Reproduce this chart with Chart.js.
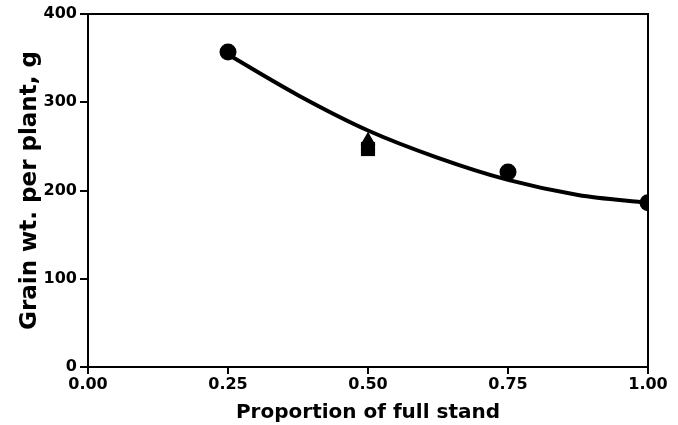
<!DOCTYPE html>
<html>
<head>
<meta charset="utf-8">
<script src="https://cdn.jsdelivr.net/npm/chart.js@4.4.1/dist/chart.umd.min.js"></script>
<style>
  html, body { margin: 0; padding: 0; background: #fff; }
  #wrap { width: 678px; height: 425px; }
</style>
</head>
<body>
<div id="wrap"><canvas id="myChart" width="678" height="425"></canvas></div>
<script>
// values
const standProp = [0.25, 0.75, 1.00];        // circles
const grainCircle = [357, 221, 186];
const triX = [0.50], triY = [257];            // triangle
const sqX = [0.50], sqY = [247];              // square
// fitted curve, read at a few points along the line
const curveX = [0.25, 0.375, 0.50, 0.625, 0.75, 0.875, 1.00];
const curveY = [354, 308, 268, 237, 212, 195, 186];

const xTicks = [0, 0.25, 0.5, 0.75, 1.0];
const yTicks = [0, 100, 200, 300, 400];

const FONT = "'DejaVu Sans', sans-serif";

function pts(xs, ys) {
    return xs.map((x, i) => ({ x: x, y: ys[i] }));
}

// closes the box on top and right
const frame = {
    id: 'frame',
    afterDraw(chart) {
        const { ctx, chartArea: a } = chart;
        ctx.save();
        ctx.strokeStyle = '#000';
        ctx.lineWidth = 2;
        ctx.beginPath();
        ctx.moveTo(a.left, a.top);
        ctx.lineTo(a.right, a.top);
        ctx.lineTo(a.right, a.bottom);
        ctx.stroke();
        ctx.restore();
    }
};

const ctx = document.getElementById('myChart').getContext('2d');

new Chart(ctx, {
    type: 'scatter',
    data: {
        datasets: [
            {
                data: pts(curveX, curveY),
                showLine: true,
                borderColor: '#000',
                borderWidth: 4,
                pointRadius: 0,
                cubicInterpolationMode: 'monotone',
                order: 2
            },
            {
                data: pts(standProp, grainCircle),
                pointStyle: 'circle',
                pointRadius: 8.5,
                backgroundColor: '#000',
                borderColor: '#000',
                borderWidth: 0,
                order: 1
            },
            {
                data: pts(triX, triY),
                pointStyle: 'triangle',
                pointRadius: 8.5,
                backgroundColor: '#000',
                borderColor: '#000',
                borderWidth: 0,
                order: 1
            },
            {
                data: pts(sqX, sqY),
                pointStyle: 'rect',
                pointRadius: 10,
                backgroundColor: '#000',
                borderColor: '#000',
                borderWidth: 0,
                order: 1
            }
        ]
    },
    options: {
        responsive: false,
        animation: false,
        devicePixelRatio: 1,
        layout: { padding: { top: 14, right: 30, left: 0, bottom: 0 } },
        plugins: {
            legend: { display: false },
            tooltip: { enabled: false }
        },
        scales: {
            x: {
                type: 'linear',
                min: 0,
                max: 1,
                afterBuildTicks: (scale) => { scale.ticks = xTicks.map(v => ({ value: v })); },
                afterFit: (scale) => { scale.height = 58; },
                border: { color: '#000', width: 2 },
                grid: { drawOnChartArea: false, color: '#000', lineWidth: 2, tickLength: 7 },
                ticks: {
                    color: '#000',
                    padding: 1,
                    maxRotation: 0,
                    font: { family: FONT, size: 16, weight: 'bold' },
                    callback: (v) => v.toFixed(2)
                },
                title: {
                    display: true,
                    text: 'Proportion of full stand',
                    color: '#000',
                    padding: { top: 0, bottom: 0 },
                    font: { family: FONT, size: 20, weight: 'bold' }
                }
            },
            y: {
                min: 0,
                max: 400,
                afterBuildTicks: (scale) => { scale.ticks = yTicks.map(v => ({ value: v })); },
                afterFit: (scale) => { scale.width = 88; },
                border: { color: '#000', width: 2 },
                grid: { drawOnChartArea: false, color: '#000', lineWidth: 2, tickLength: 8 },
                ticks: {
                    color: '#000',
                    padding: 3,
                    font: { family: FONT, size: 16, weight: 'bold' }
                },
                title: {
                    display: true,
                    text: 'Grain wt. per plant, g',
                    color: '#000',
                    padding: { top: 16, bottom: 0 },
                    font: { family: FONT, size: 23, weight: 'bold' }
                }
            }
        }
    },
    plugins: [frame]
});
</script>
</body>
</html>
